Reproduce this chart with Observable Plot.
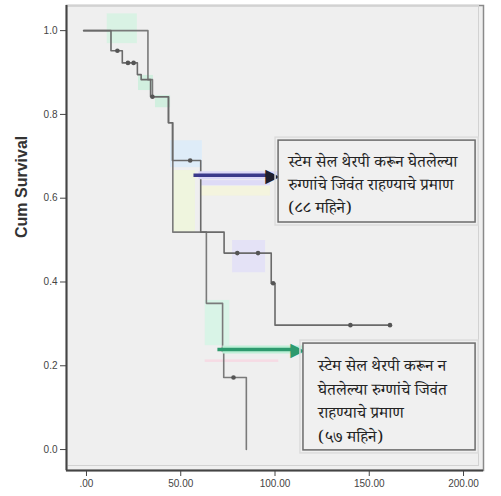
<!DOCTYPE html>
<html><head><meta charset="utf-8">
<script src="https://cdn.jsdelivr.net/npm/d3@7"></script>
<script src="https://cdn.jsdelivr.net/npm/@observablehq/plot@0.6"></script>
<style>body{margin:0;background:#fff} svg{display:block}</style>
</head><body><div id="chart"></div>
<script>
// ---- data ----
const xTicks = [0, 50, 100, 150, 200];
const xTickLabels = [".00", "50.00", "100.00", "150.00", "200.00"];
const yTicks = [0, 0.2, 0.4, 0.6, 0.8, 1.0];
const yTickLabels = ["0.0", "0.2", "0.4", "0.6", "0.8", "1.0"];
const xDomain = [-10.6, 210.6];
const yDomain = [-0.05, 1.06];
const yLabel = "Cum Survival";

// curve A: with stem cell therapy
const timeA = [-1.5, 13, 19, 27, 29, 34, 43.5, 45.6, 60.6, 73, 98, 100, 161];
const survA = [1.0, 0.952, 0.923, 0.895, 0.883, 0.842, 0.78, 0.69, 0.519, 0.469, 0.397, 0.297, 0.297];
const censorTimeA = [16.4, 22, 25, 35, 55, 80, 91, 99, 140, 161];
const censorSurvA = [0.952, 0.923, 0.923, 0.842, 0.69, 0.469, 0.469, 0.397, 0.297, 0.297];

// curve B: without stem cell therapy
const timeB = [-1.5, 32.6, 35, 43.5, 45.8, 63.6, 72.2, 72.8, 84.8, 84.8];
const survB = [1.0, 0.883, 0.842, 0.78, 0.519, 0.349, 0.239, 0.172, 0.0, 0.0];
const censorTimeB = [72.5, 78];
const censorSurvB = [0.239, 0.172];

// highlight patches
const patchT1 = [11, 27.6, 36.6, 44.6, 45.6, 60.5, 60.5, 77.5, 63, 63];
const patchT2 = [27, 35.5, 44.6, 61.5, 57.8, 97.6, 97.6, 95, 76, 102];
const patchS1 = [0.969, 0.857, 0.816, 0.673, 0.518, 0.630, 0.605, 0.422, 0.248, 0.208];
const patchS2 = [1.04, 0.893, 0.845, 0.737, 0.666, 0.642, 0.628, 0.499, 0.356, 0.214];
const patchColor = ["#d6f2e2", "#cdeedd", "#cdeedd", "#dcebf8", "#eef5dc", "#dcd8f6", "#f4f4dc", "#e2e0f6", "#d6f4e6", "#f6d8e2"];

// arrows
const arrowT1 = [59.4, 72.1];
const arrowT2 = [101.5, 114.8];
const arrowS = [0.655, 0.239];
const arrowColor = ["#3b3a8a", "#2e9a6e"];
const arrowHeadColor = ["#1e1e2e", "#2e9a6e"];
const arrowGlow = ["#ddd9f7", "#bff0d8"];

// annotation boxes
const boxT1 = [101.9, 115.1];
const boxT2 = [206.4, 206.4];
const boxS1 = [0.542, -0.002];
const boxS2 = [0.7375, 0.253];
const labelT = [107.0, 122.8];
const labelS = [0.714, 0.229];
const labels = [
  "स्टेम सेल थेरपी करून घेतलेल्या\nरुग्णांचे जिवंत राहण्याचे प्रमाण\n(८८ महिने)",
  "स्टेम सेल थेरपी करून न\nघेतलेल्या रुग्णांचे जिवंत\nराहण्याचे प्रमाण\n(५७ महिने)"
];

// ---- build ----
const curveA = timeA.map((t, i) => ({t, s: survA[i]}));
const curveB = timeB.map((t, i) => ({t, s: survB[i]}));
const censors = [
  ...censorTimeA.map((t, i) => ({t, s: censorSurvA[i]})),
  ...censorTimeB.map((t, i) => ({t, s: censorSurvB[i]}))
];
const patches = patchT1.map((t1, i) => ({t1, t2: patchT2[i], s1: patchS1[i], s2: patchS2[i], c: patchColor[i]}));
const arrows = arrowT1.map((t1, i) => ({t1, t2: arrowT2[i], s: arrowS[i], c: arrowColor[i], h: arrowHeadColor[i], g: arrowGlow[i]}));
const boxes = boxT1.map((t1, i) => ({t1, t2: boxT2[i], s1: boxS1[i], s2: boxS2[i]}));
const notes = labels.map((txt, i) => ({t: labelT[i], s: labelS[i], txt}));
const devFont = "'Noto Serif Devanagari','Noto Sans Devanagari','Lohit Devanagari','FreeSerif','Mangal',serif";

const chart = Plot.plot({
  width: 501,
  height: 496,
  marginLeft: 66,
  marginRight: 18,
  marginTop: 5,
  marginBottom: 26,
  style: {background: "#fff", fontFamily: "Arial, 'Liberation Sans', sans-serif"},
  x: {domain: xDomain, ticks: xTicks, tickFormat: d => xTickLabels[xTicks.indexOf(d)], tickSize: 6, label: null},
  y: {domain: yDomain, ticks: yTicks, tickFormat: d => yTickLabels[yTicks.indexOf(d)], tickSize: 6, label: null},
  marks: [
    Plot.frame({fill: "#efefef", stroke: "#8a8a8a", strokeWidth: 1.5}),
    Plot.frame({stroke: "#d2d2d2", insetRight: 5, insetBottom: 5, insetTop: 0, insetLeft: 0}),
    Plot.rect(patches, {x1: "t1", x2: "t2", y1: "s1", y2: "s2", fill: "c", fillOpacity: 0.9}),
    Plot.line(curveB, {x: "t", y: "s", curve: "step-after", stroke: "#7a7a7a", strokeWidth: 1.6}),
    Plot.line(curveA, {x: "t", y: "s", curve: "step-after", stroke: "#6a6a6a", strokeWidth: 1.6}),
    Plot.dot(censors, {x: "t", y: "s", r: 2.3, fill: "#555"}),
    Plot.link(arrows, {x1: "t1", x2: "t2", y1: "s", y2: "s", stroke: "g", strokeWidth: 8}),
    Plot.link(arrows, {x1: "t1", x2: "t2", y1: "s", y2: "s", stroke: "c", strokeWidth: 3.5, dx: -5}),
    Plot.text(arrows, {x: "t2", y: "s", text: d => "\u25B6", textAnchor: "end", lineAnchor: "middle", fontSize: 19, fill: "h", fontFamily: "DejaVu Sans", dx: 2, dy: 0.5}),
    Plot.rect(boxes, {x1: "t1", x2: "t2", y1: "s1", y2: "s2", fill: "none", stroke: "#dcdcdc", strokeWidth: 1.5, inset: -3}),
    Plot.rect(boxes, {x1: "t1", x2: "t2", y1: "s1", y2: "s2", fill: "#f0f0f0", stroke: "#6b6b6b", strokeWidth: 1.5}),
    Plot.text(notes.slice(0, 1), {x: "t", y: "s", text: "txt", textAnchor: "start", lineAnchor: "top", lineHeight: 1.4, fontSize: 16.5, fill: "#222", fontFamily: devFont}),
    Plot.text(notes.slice(1), {x: "t", y: "s", text: "txt", textAnchor: "start", lineAnchor: "top", lineHeight: 1.45, fontSize: 16.5, fill: "#222", fontFamily: devFont}),
    Plot.ruleX([xDomain[0]], {stroke: "#444", strokeWidth: 2}),
    Plot.ruleY([yDomain[0]], {stroke: "#444", strokeWidth: 2}),
    Plot.axisX({ticks: xTicks, tickFormat: d => xTickLabels[xTicks.indexOf(d)], tickSize: 6, fontSize: 10, stroke: "#444", fill: "#444", label: null}),
    Plot.axisY({ticks: yTicks, tickFormat: d => yTickLabels[yTicks.indexOf(d)], tickSize: 6, fontSize: 10, stroke: "#444", fill: "#444", label: null}),
    Plot.text([yLabel], {frameAnchor: "left", dx: -45, rotate: -90, text: d => d, fontSize: 16, fontWeight: "bold", fill: "#333"})
  ]
});
document.getElementById("chart").appendChild(chart);
</script>
</body></html>
